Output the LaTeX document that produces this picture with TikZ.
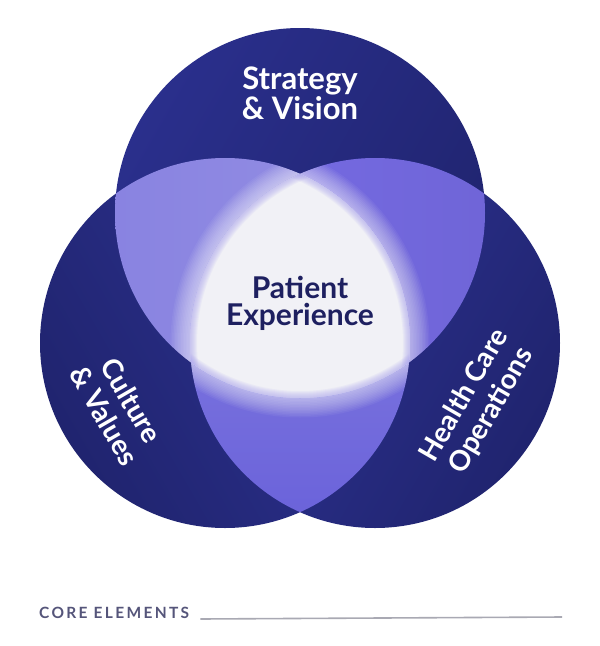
\documentclass[tikz,border=0pt]{standalone}
\usepackage{fontspec}
\setmainfont{Lato}
\newfontfamily\spacedfont[LetterSpace=15]{Lato}
\definecolor{navyA}{HTML}{20246F}
\definecolor{navyB}{HTML}{2F3496}
\definecolor{navyT}{HTML}{2A2F8C}
\definecolor{lavA}{HTML}{8680E0}
\definecolor{lavB}{HTML}{776CE6}
\definecolor{lavC}{HTML}{6A62DA}
\definecolor{centerfill}{HTML}{F1F1F6}
\definecolor{ringcol}{HTML}{A9A2EE}
\definecolor{darktext}{HTML}{1E2060}
\definecolor{footcol}{HTML}{55557A}
\definecolor{rulecol}{HTML}{A9A9B3}
\tikzset{
  circlbl/.style={text=white, font=\bfseries\fontsize{31}{28}\selectfont, align=center, inner sep=0pt},
  rotlbl/.style={text=white, font=\bfseries\fontsize{28}{31}\selectfont, align=center, inner sep=0pt},
  centerlbl/.style={text=darktext, font=\bfseries\fontsize{30}{27}\selectfont, align=center, inner sep=0pt},
  glow/.style={draw=white, draw opacity=0.05},
  ring/.style={draw=ringcol, draw opacity=0.1},
}
\begin{document}
\begin{tikzpicture}[x=1pt,y=-1pt]
\useasboundingbox (0,0) rectangle (600,646);
\fill[white] (0,0) rectangle (600,646);
\coordinate (T) at (300,213);
\coordinate (L) at (225,343);
\coordinate (R) at (375,343);
% base circles
\shade[left color=navyT, right color=navyA, shading angle=60] (T) circle[radius=185pt];
\shade[left color=navyA, right color=navyB, shading angle=120] (L) circle[radius=185pt];
\shade[left color=navyB, right color=navyA, shading angle=60] (R) circle[radius=185pt];
% pairwise overlaps
\begin{scope}
  \clip (T) circle[radius=185pt];
  \shade[left color=lavA, right color=lavA!88!white] (L) circle[radius=185pt];
\end{scope}
\begin{scope}
  \clip (T) circle[radius=185pt];
  \shade[left color=lavB, right color=lavB!92!black] (R) circle[radius=185pt];
\end{scope}
\begin{scope}
  \clip (L) circle[radius=185pt];
  \shade[top color=lavC!80!white, bottom color=lavC] (R) circle[radius=185pt];
\end{scope}
% soft glow around the centre
\begin{scope}
  \clip (T) circle[radius=185pt];
  \clip (L) circle[radius=185pt];
  \foreach \w in {3,6,...,39} {\draw[glow, line width=\w pt] (R) circle[radius=185pt];}
\end{scope}
\begin{scope}
  \clip (T) circle[radius=185pt];
  \clip (R) circle[radius=185pt];
  \foreach \w in {3,6,...,39} {\draw[glow, line width=\w pt] (L) circle[radius=185pt];}
\end{scope}
\begin{scope}
  \clip (L) circle[radius=185pt];
  \clip (R) circle[radius=185pt];
  \foreach \w in {3,6,...,39} {\draw[glow, line width=\w pt] (T) circle[radius=185pt];}
\end{scope}
% centre region
\begin{scope}
  \clip (T) circle[radius=185pt];
  \clip (L) circle[radius=185pt];
  \fill[centerfill] (R) circle[radius=185pt];
  \clip (R) circle[radius=185pt];
  \foreach \c in {T,L,R} {
    \foreach \w in {2,4,...,14} {\draw[ring, line width=\w pt] (\c) circle[radius=185pt];}
  }
\end{scope}
% labels
\node[circlbl] (sv) at (300,93) {Strategy\\\& Vision};
\node[centerlbl] (pe) at (300,303) {Patient\\Experience};
\node[rotlbl, rotate=-60] (cv) at (118,408) {Culture\\\& Values};
\node[rotlbl, rotate=60] (hc) at (478,403) {Health Care\\Operations};
% footer
\node[anchor=base west, inner sep=0pt, text=footcol, font=\spacedfont\bfseries\fontsize{15.5}{18}\selectfont] (core) at (39,618) {CORE ELEMENTS};
\coordinate (ruleend) at (562,617);
\draw[rulecol, line width=1.6pt] ([xshift=11pt,yshift=-1pt]core.base east) -- (ruleend);
\end{tikzpicture}
\end{document}
